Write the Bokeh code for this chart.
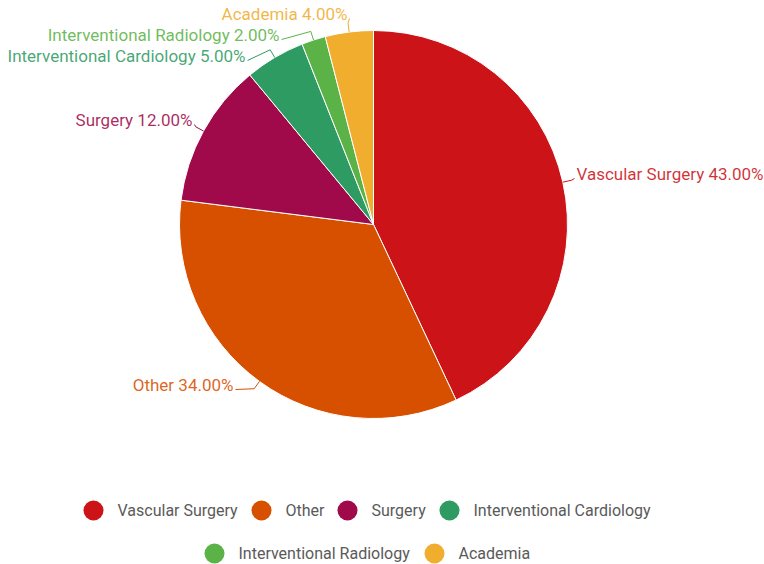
import math
from bokeh.plotting import figure
from bokeh.models import Range1d, ColumnDataSource
from bokeh.core.properties import value
from bokeh.embed import file_html
from bokeh.resources import INLINE

# ---- data ----
categories = ["Vascular Surgery", "Other", "Surgery", "Interventional Cardiology",
              "Interventional Radiology", "Academia"]
shares = [43.0, 34.0, 12.0, 5.0, 2.0, 4.0]
colors = ["#cc1418", "#d75000", "#a00a4b", "#2e9b62", "#5bb347", "#f0ad2e"]

# ---- layout (screen pixel coordinates) ----
W, H = 764, 564
CX, CY, R = 373, 224, 194
FONT = "Roboto"
# label anchors: (x, y, align)
label_pos = [(576, 173, "left"), (233, 384, "right"), (192, 119, "right"),
             (245, 55, "right"), (279, 34, "right"), (347, 13, "right")]
legend_rows = [[(93, 510), (261, 510), (347, 510), (449, 510)],
               [(214, 553), (434, 553)]]

p = figure(width=W, height=H, output_backend="svg", toolbar_location=None,
           x_range=Range1d(0, W), y_range=Range1d(-H, 0),
           min_border=0, outline_line_color=None)
p.axis.visible = False
p.grid.visible = False
p.background_fill_color = "white"
p.border_fill_color = "white"

total = sum(shares)
cum = 0.0
starts, ends, mids = [], [], []
for s in shares:
    a0 = math.pi / 2 - 2 * math.pi * cum / total
    cum += s
    a1 = math.pi / 2 - 2 * math.pi * cum / total
    starts.append(a0)
    ends.append(a1)
    mids.append((a0 + a1) / 2)

src = ColumnDataSource(dict(start=starts, end=ends, color=colors))
p.wedge(x=CX, y=-CY, radius=R, start_angle="start", end_angle="end",
        direction="clock", fill_color="color", line_color="white", line_width=1,
        source=src)

# labels + leader lines
for cat, s, col, m, (lx, ly, al) in zip(categories, shares, colors, mids, label_pos):
    ex, ey = CX + R * math.cos(m), CY - R * math.sin(m)
    bx, by = CX + (R + 9) * math.cos(m), CY - (R + 9) * math.sin(m)
    tx = lx - 2 if al == "left" else lx + 2
    p.line([ex, bx, tx], [-ey, -by, -(ly + 5)], line_color=col, line_width=1)
    p.text(x=[lx], y=[-ly], text=[f"{cat} {s:.2f}%"], text_color=col,
           text_alpha=0.88,
           text_font=value(FONT), text_font_size="17px", text_align=al,
           text_baseline="middle")

# legend
items = [pos for row in legend_rows for pos in row]
for cat, col, (x, y) in zip(categories, colors, items):
    p.scatter(x=[x], y=[-y], size=20, marker="circle", fill_color=col, line_color=None)
    p.text(x=[x + 24], y=[-y], text=[cat], text_color="#5a5a5a",
           text_font=value(FONT), text_font_size="16px", text_align="left",
           text_baseline="middle")

open("out.html", "w").write(file_html(p, INLINE))
